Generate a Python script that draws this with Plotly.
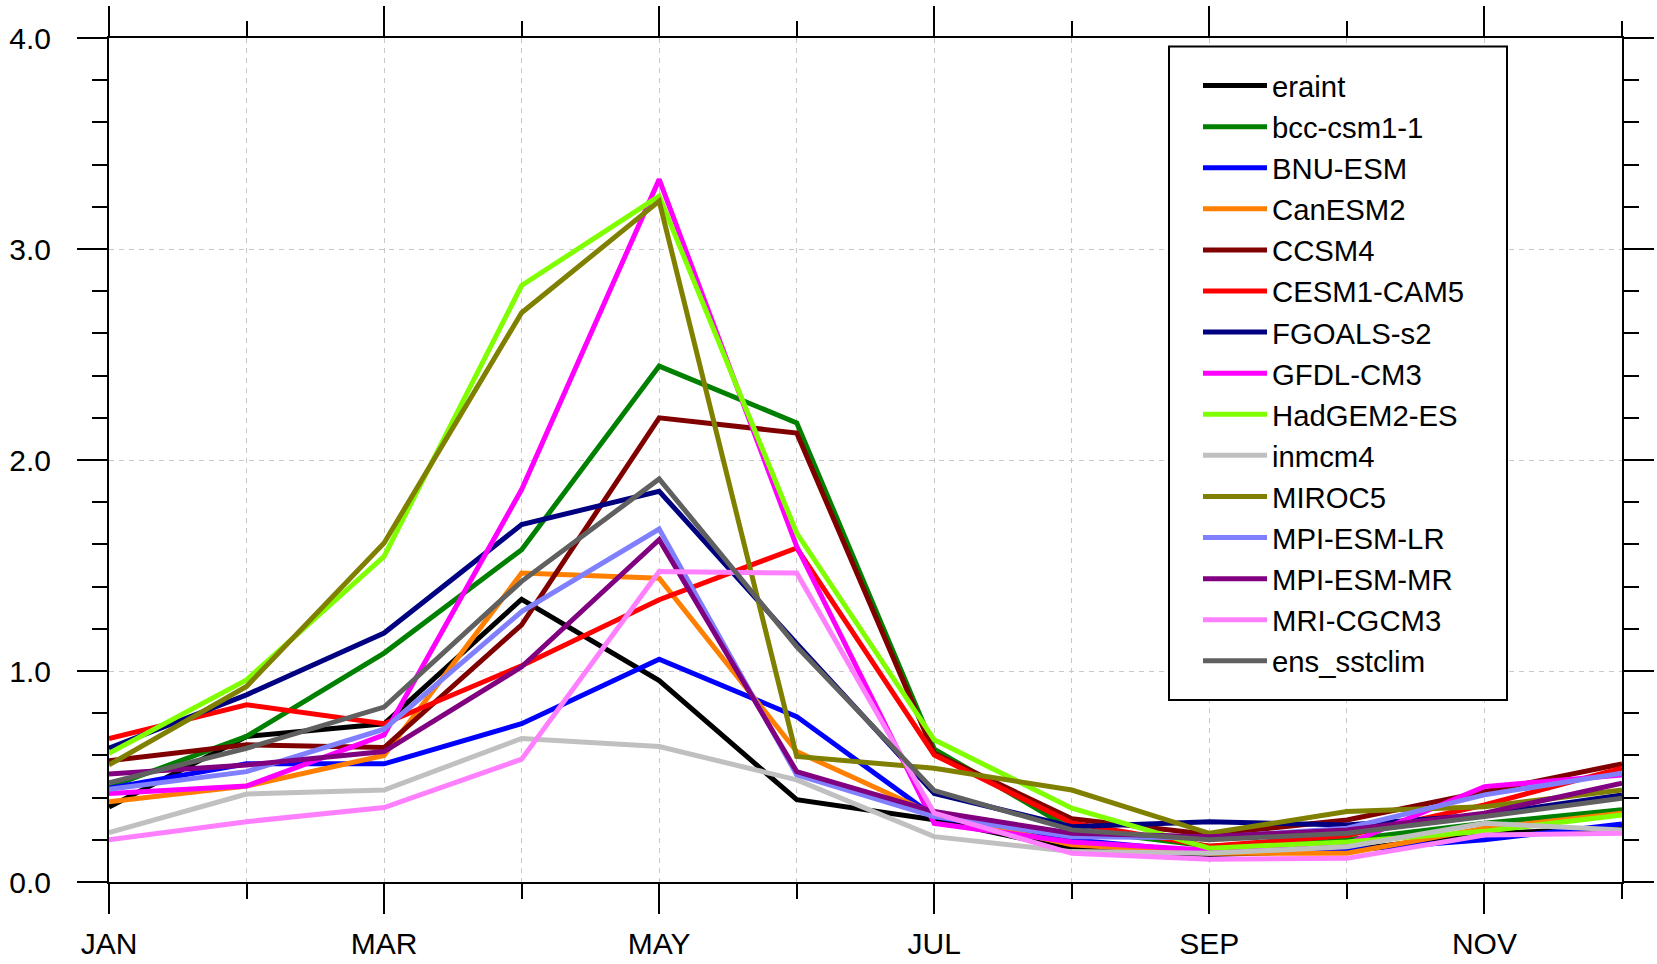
import plotly.graph_objects as go

months = ["JAN", "FEB", "MAR", "APR", "MAY", "JUN",
          "JUL", "AUG", "SEP", "OCT", "NOV", "DEC"]
month_idx = list(range(len(months)))
tick_months = ["JAN", "MAR", "MAY", "JUL", "SEP", "NOV"]
tick_idx = [months.index(m) for m in tick_months]
y_ticks = [0.0, 1.0, 2.0, 3.0, 4.0]

eraint      = [0.355, 0.69, 0.75, 1.34, 0.955, 0.39, 0.295, 0.155, 0.13, 0.15, 0.23, 0.255]
bcc_csm1_1  = [0.45, 0.69, 1.085, 1.575, 2.445, 2.176, 0.63, 0.25, 0.17, 0.20, 0.278, 0.342]
bnu_esm     = [0.444, 0.56, 0.56, 0.75, 1.056, 0.784, 0.31, 0.20, 0.14, 0.15, 0.20, 0.275]
canesm2     = [0.38, 0.455, 0.60, 1.464, 1.44, 0.618, 0.32, 0.176, 0.136, 0.136, 0.255, 0.326]
ccsm4       = [0.575, 0.65, 0.637, 1.219, 2.20, 2.128, 0.61, 0.30, 0.225, 0.294, 0.428, 0.56]
cesm1_cam5  = [0.68, 0.84, 0.75, 1.025, 1.338, 1.583, 0.602, 0.28, 0.17, 0.22, 0.365, 0.54]
fgoals_s2   = [0.634, 0.887, 1.18, 1.694, 1.852, 1.13, 0.42, 0.262, 0.286, 0.27, 0.318, 0.413]
gfdl_cm3    = [0.42, 0.455, 0.697, 1.86, 3.33, 1.59, 0.278, 0.19, 0.15, 0.18, 0.452, 0.507]
hadgem2_es  = [0.61, 0.958, 1.543, 2.827, 3.251, 1.654, 0.674, 0.35, 0.16, 0.19, 0.24, 0.318]
inmcm4      = [0.234, 0.417, 0.436, 0.68, 0.642, 0.484, 0.215, 0.144, 0.136, 0.167, 0.278, 0.247]
miroc5      = [0.555, 0.927, 1.607, 2.698, 3.227, 0.595, 0.539, 0.436, 0.231, 0.334, 0.357, 0.436]
mpi_esm_lr  = [0.44, 0.523, 0.724, 1.282, 1.673, 0.508, 0.31, 0.215, 0.21, 0.255, 0.413, 0.516]
mpi_esm_mr  = [0.512, 0.555, 0.618, 1.02, 1.622, 0.523, 0.334, 0.231, 0.215, 0.247, 0.326, 0.468]
mri_cgcm3   = [0.20, 0.286, 0.353, 0.582, 1.472, 1.464, 0.326, 0.136, 0.108, 0.112, 0.223, 0.231]
ens_sstclim = [0.47, 0.634, 0.829, 1.425, 1.91, 1.116, 0.433, 0.247, 0.20, 0.231, 0.31, 0.397]

series_names = ["eraint", "bcc-csm1-1", "BNU-ESM", "CanESM2", "CCSM4", "CESM1-CAM5",
                "FGOALS-s2", "GFDL-CM3", "HadGEM2-ES", "inmcm4", "MIROC5",
                "MPI-ESM-LR", "MPI-ESM-MR", "MRI-CGCM3", "ens_sstclim"]
series_values = [eraint, bcc_csm1_1, bnu_esm, canesm2, ccsm4, cesm1_cam5,
                 fgoals_s2, gfdl_cm3, hadgem2_es, inmcm4, miroc5,
                 mpi_esm_lr, mpi_esm_mr, mri_cgcm3, ens_sstclim]
series_colors = ["#000000", "#008000", "#0000ff", "#ff8000", "#800000", "#ff0000",
                 "#000080", "#ff00ff", "#80ff00", "#c0c0c0", "#808000",
                 "#8080ff", "#800080", "#ff80ff", "#606060"]

FONT = "Liberation Sans, Arial, Helvetica, sans-serif"

fig = go.Figure()
for name, vals, col in zip(series_names, series_values, series_colors):
    fig.add_trace(go.Scatter(
        x=month_idx, y=vals, mode="lines", name=name,
        line=dict(color=col, width=5), legendgroup=name,
    ))

W, H = 1657, 964
L, R, T, B = 109, 35, 38, 82
pw, ph = W - L - R, H - T - B

def px_x(p):
    return (p - L) / pw

def px_y(p):
    return (H - B - p) / ph

fig.update_layout(
    width=W, height=H,
    margin=dict(l=L, r=R, t=T, b=B, pad=0),
    paper_bgcolor="white", plot_bgcolor="white",
    font=dict(family=FONT, size=30, color="black"),
    showlegend=True,
    legend=dict(
        x=px_x(1198), y=px_y(60), xanchor="left", yanchor="top",
        bgcolor="rgba(0,0,0,0)", borderwidth=0,
        font=dict(family=FONT, size=29.3, color="black"),
        itemwidth=64, tracegroupgap=0,
    ),
    shapes=[dict(
        type="rect", xref="paper", yref="paper", layer="above",
        x0=px_x(1169), x1=px_x(1507), y0=px_y(700), y1=px_y(46.5),
        line=dict(color="black", width=2), fillcolor="white",
    )],
)

grid_col = "#c8c8c8"
fig.update_xaxes(
    range=[0, 11], tickvals=tick_idx, ticktext=tick_months,
    ticks="outside", ticklen=30, tickwidth=2, tickcolor="black",
    showline=True, linewidth=2, linecolor="black", mirror="ticks",
    showgrid=True, gridcolor=grid_col, gridwidth=1, griddash="5px,5px",
    zeroline=False, tickfont=dict(size=30, family=FONT, color="black"),
    minor=dict(dtick=1, tick0=0, ticks="outside", ticklen=15, tickwidth=1.5,
               tickcolor="black", showgrid=True, gridcolor=grid_col,
               gridwidth=1, griddash="5px,5px"),
    automargin=False, ticklabelstandoff=4,
)
fig.update_yaxes(
    range=[0, 4], tickvals=y_ticks, tickformat=".1f",
    ticks="outside", ticklen=30, tickwidth=2, tickcolor="black",
    showline=True, linewidth=2, linecolor="black", mirror="ticks",
    showgrid=True, gridcolor=grid_col, gridwidth=1, griddash="5px,5px",
    zeroline=False, tickfont=dict(size=30, family=FONT, color="black"),
    minor=dict(dtick=0.2, tick0=0, ticks="outside", ticklen=15, tickwidth=1.5,
               tickcolor="black", showgrid=False),
    automargin=False, ticklabelstandoff=20,
)

fig.write_html("out.html")
